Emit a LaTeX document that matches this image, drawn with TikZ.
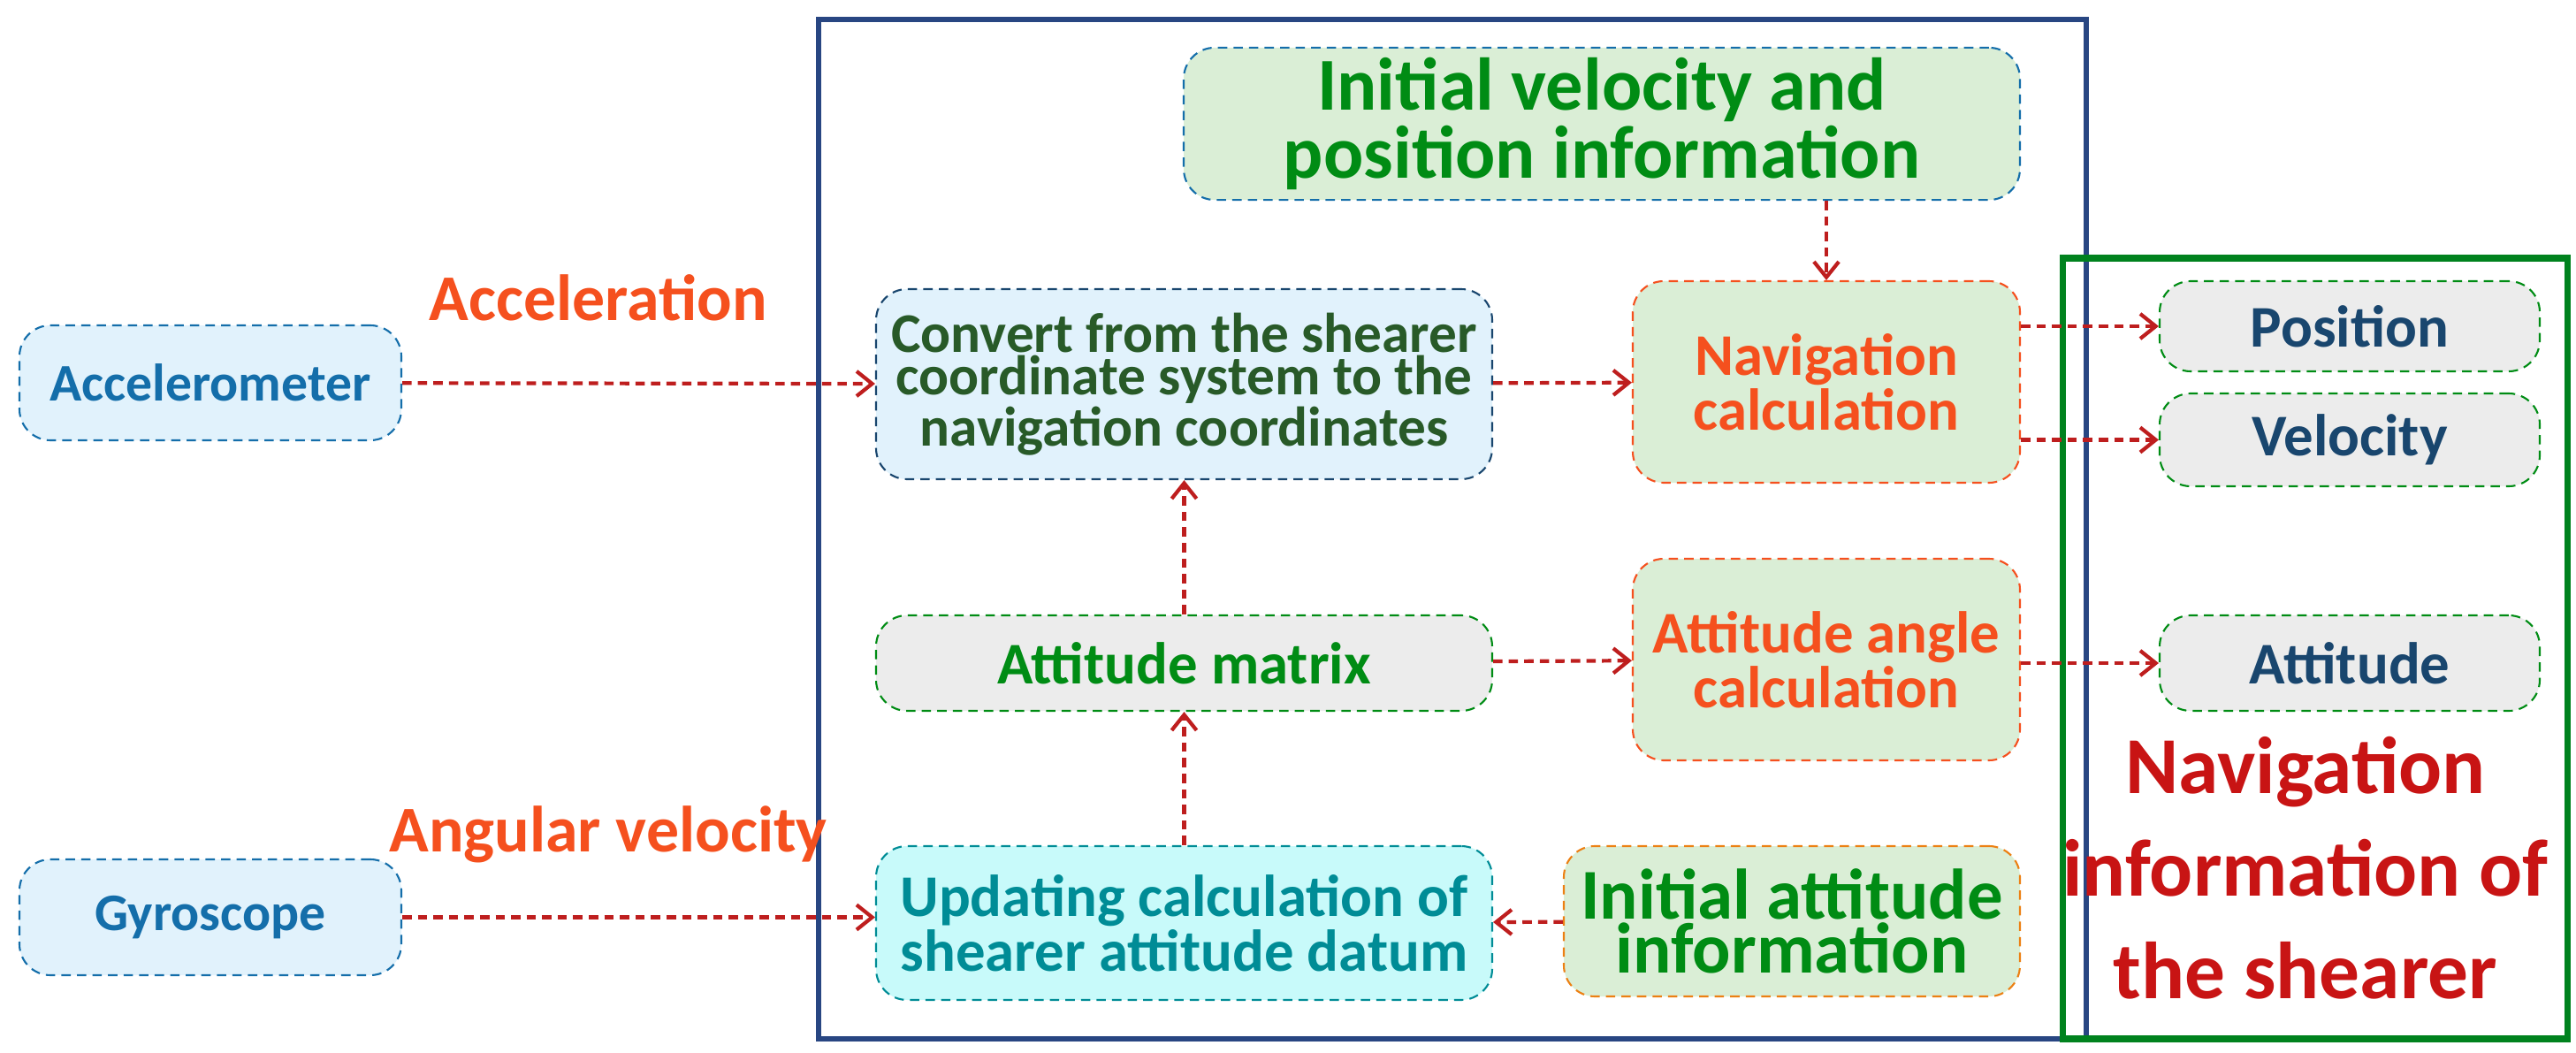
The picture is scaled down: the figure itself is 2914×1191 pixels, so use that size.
\documentclass[tikz,border=0pt]{standalone}
\usepackage{fontspec}
\setmainfont{Carlito}
\usetikzlibrary{arrows.meta}
\definecolor{arr}{RGB}{190,30,30}
\definecolor{lblue}{RGB}{225,242,252}
\definecolor{lgreen}{RGB}{218,238,214}
\definecolor{lgray}{RGB}{236,236,236}
\definecolor{cyanf}{RGB}{200,250,250}
\definecolor{tblue}{RGB}{20,110,170}
\definecolor{tdblue}{RGB}{25,70,110}
\definecolor{tgreen}{RGB}{0,140,20}
\definecolor{tdgreen}{RGB}{40,90,40}
\definecolor{torange}{RGB}{245,80,30}
\definecolor{tteal}{RGB}{0,140,150}
\begin{document}
\begin{tikzpicture}[x=0.01cm,y=-0.01cm,
 box/.style={rounded corners=10pt,densely dashed,line width=0.6pt,align=center,font=\bfseries},
 ar/.style={densely dashed,arr,line width=1.2pt,-{Straight Barb[length=5pt,width=8pt]}}]
\useasboundingbox (0,0) rectangle (2914,1191);
\def\bx#1#2#3#4#5#6#7#8{\node[box,draw=#6,fill=#7,text=#8,minimum width={(#3-#2)*0.01cm},minimum height={(#5-#4)*0.01cm}] (#1) at ({(#2+#3)/2},{(#4+#5)/2})}
\draw[line width=1.6pt,color={rgb,255:red,40;green,70;blue,130}] (926,22) rectangle (2360,1175);
\draw[line width=2pt,color={rgb,255:red,0;green,130;blue,30}] (2333,292) rectangle (2904,1175);
\bx{acc}{22}{454}{368}{498}{tblue}{lblue}{tblue}{\fontsize{17}{20}\selectfont Accelerometer};
\bx{gyr}{22}{454}{972}{1103}{tblue}{lblue}{tblue}{\fontsize{17}{20}\selectfont Gyroscope};
\bx{ivp}{1339}{2285}{65}{215}{tblue}{lgreen}{tgreen}{\fontsize{24}{31}\selectfont Initial velocity and\\ \fontsize{24}{31}\selectfont position information};
\bx{conv}{991}{1688}{327}{542}{tdblue}{lblue}{tdgreen}{\fontsize{18}{24}\selectfont Convert from the shearer\\ \fontsize{18}{24}\selectfont coordinate system to the\\ \fontsize{18}{24}\selectfont navigation coordinates};
\bx{nav}{1847}{2285}{318}{546}{torange}{lgreen}{torange}{\fontsize{19}{25}\selectfont Navigation\\ \fontsize{19}{25}\selectfont calculation};
\bx{am}{991}{1688}{696}{804}{tgreen}{lgray}{tgreen}{\fontsize{19}{23}\selectfont Attitude matrix};
\bx{aac}{1847}{2285}{632}{860}{torange}{lgreen}{torange}{\fontsize{19}{25}\selectfont Attitude angle\\ \fontsize{19}{25}\selectfont calculation};
\bx{upd}{991}{1688}{957}{1131}{tteal}{cyanf}{tteal}{\fontsize{19}{25}\selectfont Updating calculation of\\ \fontsize{19}{25}\selectfont shearer attitude datum};
\bx{iai}{1769}{2285}{957}{1127}{orange!70!brown}{lgreen}{tgreen}{\fontsize{23}{30}\selectfont Initial attitude\\ \fontsize{23}{30}\selectfont information};
\bx{pos}{2443}{2873}{318}{420}{tgreen}{lgray}{tdblue}{\fontsize{19}{23}\selectfont Position};
\bx{vel}{2443}{2873}{445}{550}{tgreen}{lgray}{tdblue}{\fontsize{19}{23}\selectfont Velocity};
\bx{att}{2443}{2873}{696}{804}{tgreen}{lgray}{tdblue}{\fontsize{19}{23}\selectfont Attitude};
\node[align=center,font=\bfseries\fontsize{26}{33}\selectfont,text={rgb,255:red,200;green,20;blue,20}] (ni) at (2608,982) {Navigation\\information of\\the shearer};
\node[font=\bfseries\fontsize{21}{25}\selectfont,text=torange] (lacc) at (677,337) {Acceleration};
\node[font=\bfseries\fontsize{21}{25}\selectfont,text=torange] (lang) at (688,944) {Angular velocity};
\draw[ar] (acc) -- (conv);
\draw[ar] (gyr.east) -- (upd.west |- gyr.east);
\draw[ar] (conv) -- (nav);
\draw[ar] (ivp.south -| nav) -- (nav);
\draw[ar] (upd) -- (am);
\draw[ar] (am) -- (conv);
\draw[ar] (am) -- (aac);
\draw[ar] (iai) -- (upd);
\draw[ar] (nav.east |- pos) -- (pos);
\draw[ar] (nav.east |- vel) -- (vel);
\draw[ar] (aac.east |- att) -- (att);
\end{tikzpicture}
\end{document}
